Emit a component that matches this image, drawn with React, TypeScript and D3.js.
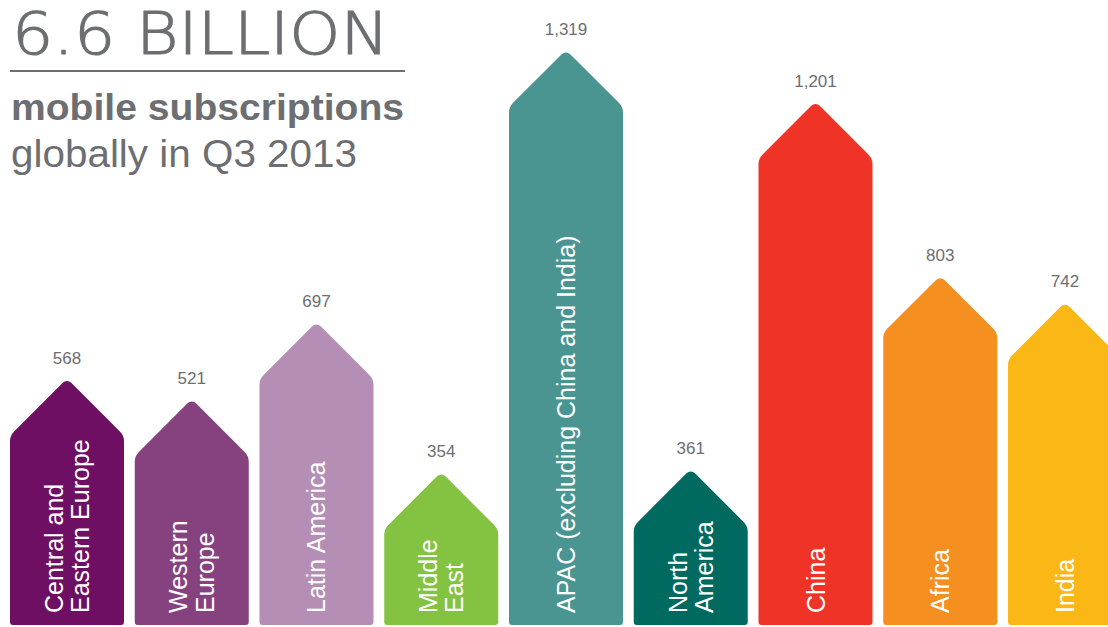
import React from "react";
import * as d3 from "d3";

const categories = [
  "Central and Eastern Europe",
  "Western Europe",
  "Latin America",
  "Middle East",
  "APAC (excluding China and India)",
  "North America",
  "China",
  "Africa",
  "India",
];
const labelLines = [
  ["Central and", "Eastern Europe"],
  ["Western", "Europe"],
  ["Latin America"],
  ["Middle", "East"],
  ["APAC (excluding China and India)"],
  ["North", "America"],
  ["China"],
  ["Africa"],
  ["India"],
];
const values = [568, 521, 697, 354, 1319, 361, 1201, 803, 742];
const colors = [
  "#6e0f64",
  "#86417f",
  "#b48eb5",
  "#84c342",
  "#4a9591",
  "#006a61",
  "#ef3326",
  "#f58f20",
  "#fbb716",
];

const W = 1108;
const H = 627;
const GRAY = "#6d6e71";
const FONT = "'Liberation Sans', Arial, Helvetica, sans-serif";

function arrowPath(x0: number, x1: number, top: number, bottom: number) {
  const cx = (x0 + x1) / 2;
  const hw = (x1 - x0) / 2;
  const sh = top + hw;
  const p = d3.path();
  p.moveTo(cx, bottom);
  p.arcTo(x0, bottom, x0, sh, 3);
  p.arcTo(x0, sh, cx, top, 14);
  p.arcTo(cx, top, x1, sh, 6);
  p.arcTo(x1, sh, x1, bottom, 14);
  p.arcTo(x1, bottom, cx, bottom, 3);
  p.closePath();
  return p.toString();
}

export default function App() {
  const x = d3
    .scaleBand<string>()
    .domain(categories)
    .range([10, 1122])
    .paddingInner(0.0862)
    .paddingOuter(0);
  const y = d3.scaleLinear().domain([0, 1400]).range([627, 14.5]);
  const bottom = y(0) - 2;
  const fmt = d3.format(",");
  const capH = 18;
  const lineH = 26.5;

  return (
    <svg
      width={W}
      height={H}
      style={{ position: "absolute", left: 0, top: 0, display: "block" }}
    >
      <rect width={W} height={H} fill="#ffffff" />
      <text
        x={12}
        y={54}
        fontFamily="'DejaVu Sans', sans-serif"
        fontWeight={200}
        fontSize={59}
        fill={GRAY}
        stroke={GRAY}
        strokeWidth={1.1}
        textLength={377}
        lengthAdjust="spacingAndGlyphs"
      >
        6.6 BILLION
      </text>
      <line x1={10} x2={405} y1={71} y2={71} stroke={GRAY} strokeWidth={2} />
      <text
        x={11}
        y={120}
        fontFamily={FONT}
        fontWeight="bold"
        fontSize={36}
        fill={GRAY}
        textLength={393}
        lengthAdjust="spacingAndGlyphs"
      >
        mobile subscriptions
      </text>
      <text
        x={11}
        y={167}
        fontFamily={FONT}
        fontSize={38}
        fill={GRAY}
        textLength={346}
        lengthAdjust="spacingAndGlyphs"
      >
        globally in Q3 2013
      </text>
      {categories.map((c, i) => {
        const x0 = x(c) as number;
        const x1 = x0 + x.bandwidth();
        const cx = (x0 + x1) / 2;
        const top = y(values[i]);
        const lines = labelLines[i];
        const bx = cx + capH / 2 - ((lines.length - 1) * lineH) / 2;
        return (
          <g key={c}>
            <path d={arrowPath(x0, x1, top, bottom)} fill={colors[i]} />
            <text
              x={cx}
              y={top - 15}
              textAnchor="middle"
              fontFamily={FONT}
              fontSize={17}
              fill={GRAY}
            >
              {fmt(values[i])}
            </text>
            <g transform={`translate(${bx},613) rotate(-90)`}>
              {lines.map((l, j) => (
                <text
                  key={j}
                  x={0}
                  y={j * lineH}
                  fontFamily={FONT}
                  fontSize={25}
                  fill="#ffffff"
                >
                  {l}
                </text>
              ))}
            </g>
          </g>
        );
      })}
    </svg>
  );
}
